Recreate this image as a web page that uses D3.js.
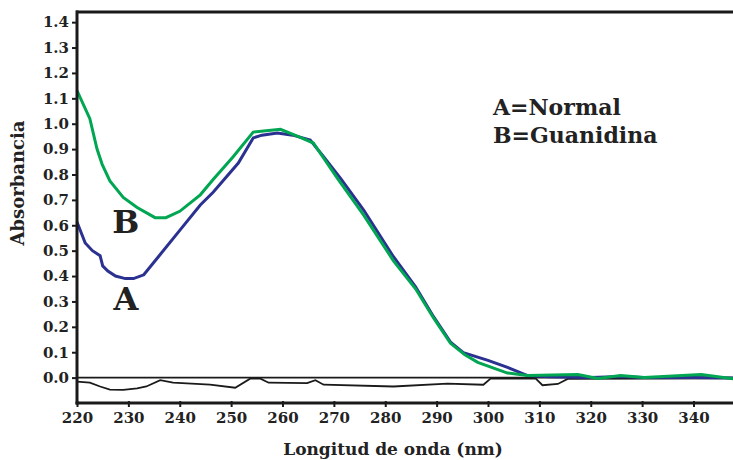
<!DOCTYPE html>
<html>
<head>
<meta charset="utf-8">
<script src="https://cdn.jsdelivr.net/npm/d3@7"></script>
<style>
  body { margin: 0; background: #fff; }
  svg { display: block; font-family: "DejaVu Serif", serif; font-weight: bold; }
</style>
</head>
<body>
<script>
// wavelength (nm) / absorbance
var wlA = [220, 221.6, 223, 224.5, 225, 226, 227.5, 229.4, 231, 233, 236, 240, 244, 246.5, 251.4, 254.3, 256, 259, 262, 265.4, 268, 271.3, 275.8, 281.6, 285.9, 289.4, 292.7, 295.2, 300, 303.8, 307.7, 312, 320, 326, 330, 340, 348];
var absA = [0.613, 0.53, 0.50, 0.48, 0.44, 0.42, 0.40, 0.39, 0.39, 0.405, 0.48, 0.58, 0.68, 0.73, 0.845, 0.944, 0.955, 0.963, 0.955, 0.936, 0.87, 0.785, 0.66, 0.476, 0.358, 0.24, 0.14, 0.098, 0.068, 0.04, 0.008, 0.003, 0.0, 0.004, 0.0, 0.0, -0.002];

var wlB = [220, 222.5, 223.9, 224.9, 226.4, 229, 231.7, 235.2, 237.3, 240, 244, 246.5, 250.4, 254.3, 259.6, 263, 266, 270.7, 275.8, 281.6, 285.9, 289.4, 292.7, 295.5, 298, 303.8, 307.7, 317.5, 321.4, 325.8, 330.4, 341.5, 348];
var absB = [1.13, 1.02, 0.9, 0.84, 0.775, 0.71, 0.67, 0.63, 0.63, 0.655, 0.72, 0.78, 0.87, 0.967, 0.978, 0.95, 0.924, 0.785, 0.64, 0.46, 0.35, 0.235, 0.135, 0.09, 0.06, 0.018, 0.008, 0.012, -0.003, 0.008, 0.0, 0.012, -0.005];

var wlD = [220, 222.5, 224.5, 226.4, 229, 231.7, 233.5, 236.2, 238.7, 245.9, 250.8, 253.7, 255.7, 257.3, 264.8, 266.4, 268, 281.6, 292.1, 299.1, 300.5, 309.3, 310.6, 313.6, 315.5, 348];
var absD = [-0.016, -0.02, -0.035, -0.047, -0.048, -0.042, -0.035, -0.01, -0.02, -0.028, -0.04, -0.004, -0.004, -0.02, -0.022, -0.01, -0.028, -0.035, -0.024, -0.028, -0.004, -0.004, -0.03, -0.025, -0.005, -0.003];

var xTicks = [220, 230, 240, 250, 260, 270, 280, 290, 300, 310, 320, 330, 340];
var yTicks = [0, 0.1, 0.2, 0.3, 0.4, 0.5, 0.6, 0.7, 0.8, 0.9, 1.0, 1.1, 1.2, 1.3, 1.4];

var width = 733, height = 460;
var svg = d3.select("body").append("svg").attr("width", width).attr("height", height);

var x = d3.scaleLinear().domain([220, 348]).range([77, 734.6]);
var y = d3.scaleLinear().domain([-0.1, 1.44]).range([403, 12]);

var line = d3.line().x(d => x(d[0])).y(d => y(d[1]));

// frame top
svg.append("line").attr("x1", 76).attr("x2", width).attr("y1", 12).attr("y2", 12)
  .attr("stroke", "#1a1a1a").attr("stroke-width", 3);

// zero line
svg.append("line").attr("x1", 77).attr("x2", width).attr("y1", y(0)).attr("y2", y(0))
  .attr("stroke", "#1a1a1a").attr("stroke-width", 1.8);

svg.append("path").datum(d3.zip(wlD, absD)).attr("d", line)
  .attr("fill", "none").attr("stroke", "#1a1a1a").attr("stroke-width", 1.8);
svg.append("path").datum(d3.zip(wlA, absA)).attr("d", line)
  .attr("fill", "none").attr("stroke", "#2b3190").attr("stroke-width", 3);
svg.append("path").datum(d3.zip(wlB, absB)).attr("d", line)
  .attr("fill", "none").attr("stroke", "#00a651").attr("stroke-width", 3);

var yAxis = svg.append("g").attr("transform", "translate(77,0)")
  .call(d3.axisLeft(y).tickValues(yTicks).tickFormat(d3.format(".1f")).tickSize(5).tickPadding(3));
var xAxis = svg.append("g").attr("transform", "translate(0,403)")
  .call(d3.axisBottom(x).tickValues(xTicks).tickFormat(d3.format("d")).tickSize(4).tickPadding(5));

[yAxis, xAxis].forEach(function (g) {
  g.select(".domain").remove();
  g.selectAll(".tick line").attr("stroke", "#1a1a1a").attr("stroke-width", 2);
  g.selectAll("text").attr("font-family", "DejaVu Serif").attr("font-weight", "bold")
    .attr("font-size", 15).attr("fill", "#222");
});
xAxis.selectAll(".tick line").attr("y1", -2);

svg.append("line").attr("x1", 77).attr("x2", 77).attr("y1", 10.5).attr("y2", 404.5)
  .attr("stroke", "#1a1a1a").attr("stroke-width", 3);
svg.append("line").attr("x1", 75.5).attr("x2", width).attr("y1", 403).attr("y2", 403)
  .attr("stroke", "#1a1a1a").attr("stroke-width", 3);

// titles
svg.append("text").attr("transform", "translate(24,183) rotate(-90)")
  .attr("text-anchor", "middle").attr("font-size", 18).attr("fill", "#222").text("Absorbancia");
svg.append("text").attr("x", 393).attr("y", 455)
  .attr("text-anchor", "middle").attr("font-size", 17).attr("fill", "#222").text("Longitud de onda (nm)");

// curve labels
svg.append("text").attr("x", x(229.5)).attr("y", y(0.57)).attr("text-anchor", "middle")
  .attr("font-size", 32).attr("fill", "#222").text("B");
svg.append("text").attr("x", x(229.5)).attr("y", y(0.266)).attr("text-anchor", "middle")
  .attr("font-size", 32).attr("fill", "#222").text("A");

svg.append("text").attr("x", 493).attr("y", 115).attr("font-size", 22).attr("fill", "#222").text("A=Normal");
svg.append("text").attr("x", 493).attr("y", 143).attr("font-size", 22).attr("fill", "#222").text("B=Guanidina");
</script>
</body>
</html>
